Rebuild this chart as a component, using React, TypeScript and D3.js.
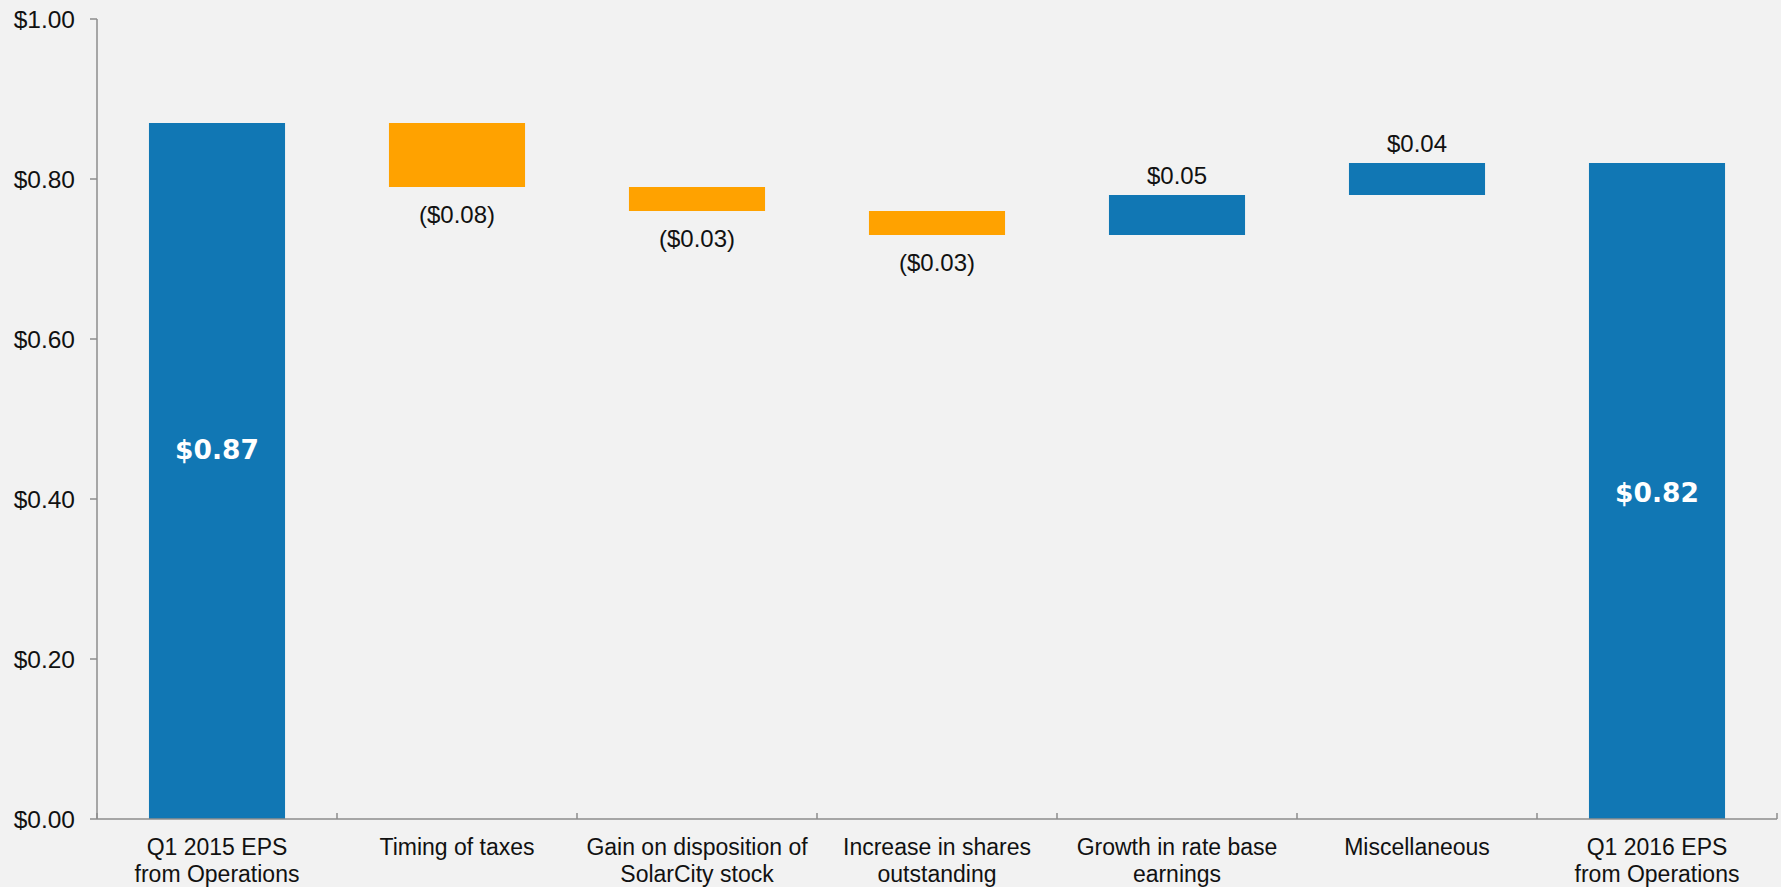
import React from "react";
import * as d3 from "d3";

const categories: string[][] = [
  ["Q1 2015 EPS", "from Operations"],
  ["Timing of taxes"],
  ["Gain on disposition of", "SolarCity stock"],
  ["Increase in shares", "outstanding"],
  ["Growth in rate base", "earnings"],
  ["Miscellaneous"],
  ["Q1 2016 EPS", "from Operations"],
];
const barStart = [0, 0.87, 0.79, 0.76, 0.73, 0.78, 0];
const barEnd = [0.87, 0.79, 0.76, 0.73, 0.78, 0.82, 0.82];
const barKind = ["total", "neg", "neg", "neg", "pos", "pos", "total"];
const barLabels = ["$0.87", "($0.08)", "($0.03)", "($0.03)", "$0.05", "$0.04", "$0.82"];
const yTicks = [0, 0.2, 0.4, 0.6, 0.8, 1.0];

const W = 1781;
const H = 887;
const BLUE = "#1177b4";
const ORANGE = "#ffa200";
const AXIS = "#8c8c8c";

export default function App() {
  const left = 97;
  const right = 1777;
  const x = d3.scaleBand<number>().domain(d3.range(categories.length)).range([left, right]).paddingInner(0.433).paddingOuter(0.2165);
  const y = d3.scaleLinear().domain([0, 1]).range([819, 19]);
  const fmt = (v: number) => "$" + d3.format(".2f")(v);
  const step = x.step();

  return (
    <svg width={W} height={H} style={{ position: "absolute", left: 0, top: 0, background: "#f2f2f2" }} fontFamily="'Liberation Sans', Arial, sans-serif">
      <rect x={0} y={0} width={W} height={H} fill="#f2f2f2" />
      {categories.map((_, i) => {
        const a = barStart[i];
        const b = barEnd[i];
        const top = y(Math.max(a, b));
        const bot = y(Math.min(a, b));
        const color = barKind[i] === "neg" ? ORANGE : BLUE;
        return <rect key={"b" + i} x={x(i)} y={top} width={x.bandwidth()} height={bot - top} fill={color} />;
      })}
      {categories.map((_, i) => {
        const cx = (x(i) as number) + x.bandwidth() / 2;
        const a = barStart[i];
        const b = barEnd[i];
        if (barKind[i] === "total") {
          return (
            <text key={"l" + i} x={cx} y={y(b) + 339 - (i === 0 ? 3 : 0)} textAnchor="middle" fill="#fff" fontFamily="'DejaVu Sans', Verdana, sans-serif" fontWeight="bold" fontSize={26.5}>
              {barLabels[i]}
            </text>
          );
        }
        if (barKind[i] === "neg") {
          return (
            <text key={"l" + i} x={cx} y={y(Math.min(a, b)) + 36} textAnchor="middle" fill="#111" fontSize={24}>
              {barLabels[i]}
            </text>
          );
        }
        return (
          <text key={"l" + i} x={cx} y={y(Math.max(a, b)) - 11} textAnchor="middle" fill="#111" fontSize={24}>
            {barLabels[i]}
          </text>
        );
      })}
      <line x1={left} x2={left} y1={y(1)} y2={y(0)} stroke={AXIS} strokeWidth={1.5} />
      {yTicks.map((t) => (
        <g key={"t" + t}>
          <line x1={left - 7} x2={left} y1={y(t)} y2={y(t)} stroke={AXIS} strokeWidth={1.5} />
          <text x={left - 22} y={y(t) + 8.5} textAnchor="end" fontSize={24.5} fill="#111">
            {fmt(t)}
          </text>
        </g>
      ))}
      <line x1={left} x2={right} y1={y(0)} y2={y(0)} stroke={AXIS} strokeWidth={1.5} />
      {d3.range(categories.length + 1).map((k) => (
        <line key={"xt" + k} x1={left + k * step} x2={left + k * step} y1={y(0)} y2={y(0) - 6} stroke={AXIS} strokeWidth={1.5} />
      ))}
      {categories.map((lines, i) => {
        const cx = (x(i) as number) + x.bandwidth() / 2;
        return (
          <text key={"c" + i} x={cx} textAnchor="middle" fontSize={23} fill="#111">
            {lines.map((ln, j) => (
              <tspan key={j} x={cx} y={855 + j * 27}>
                {ln}
              </tspan>
            ))}
          </text>
        );
      })}
    </svg>
  );
}
